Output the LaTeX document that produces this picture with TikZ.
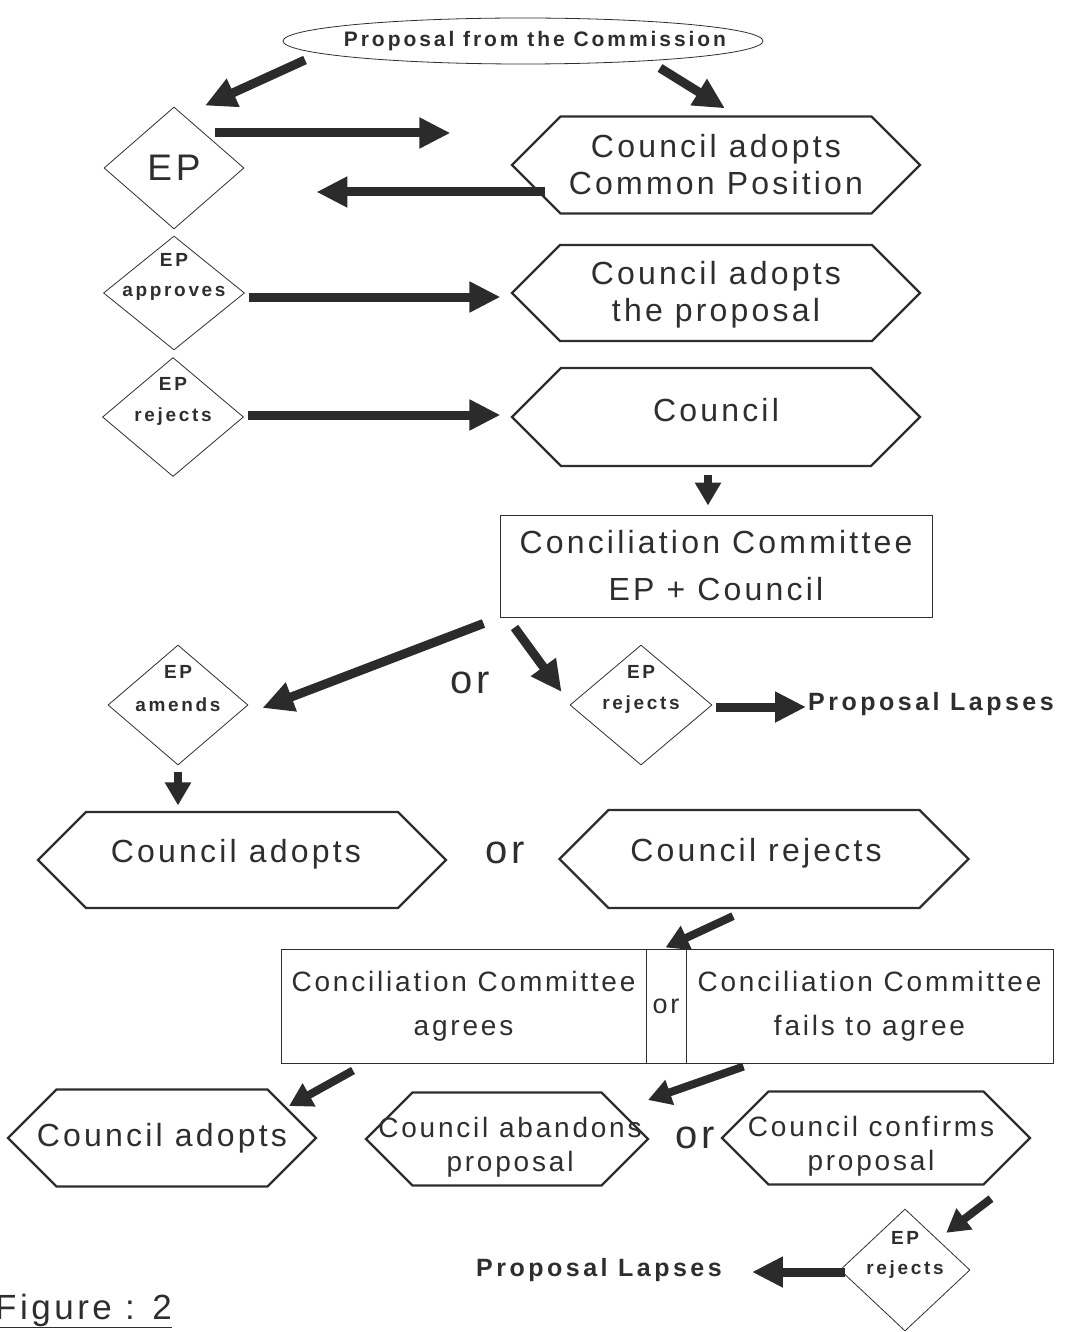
\documentclass[tikz,border=0pt]{standalone}
\usepackage{fontspec}
\setmainfont{Liberation Sans}
\newfontfamily\widefont[LetterSpace=10]{Liberation Sans}
\newfontfamily\tightfont[LetterSpace=14]{Liberation Sans}
\usetikzlibrary{shapes.geometric,shapes.symbols,arrows.meta}
\definecolor{ink}{gray}{0.18}
\definecolor{arrowgray}{gray}{0.17}
\tikzset{
  hexa/.style={signal,signal to=east and west,signal pointer angle=90,draw=ink,line width=2.2pt,inner sep=0pt},
  hextext/.style={text=ink,inner sep=0pt,align=center,font=\widefont\fontsize{32}{37}\selectfont},
  smallhex/.style={hextext,font=\widefont\fontsize{28}{34}\selectfont},
  dia/.style={diamond,draw=ink,line width=0.8pt,inner sep=0pt},
  diatext/.style={text=ink,inner sep=0pt,font=\tightfont\bfseries\fontsize{19}{19}\selectfont},
  box/.style={rectangle,draw=ink,line width=1pt,inner sep=0pt,align=center,text=ink,
    font=\widefont\fontsize{32}{47}\selectfont},
  oval/.style={ellipse,draw=ink,line width=0.8pt,inner sep=0pt},
  ovaltext/.style={text=ink,inner sep=0pt,font=\tightfont\bfseries\fontsize{21}{21}\selectfont},
  lapse/.style={inner sep=0pt,text=ink,font=\tightfont\bfseries\fontsize{25}{25}\selectfont},
  ortext/.style={inner sep=0pt,text=ink,font=\widefont\fontsize{40}{40}\selectfont},
  fat/.style={arrowgray,line width=9pt,-{Triangle[length=31pt,width=29pt]}},
  fatsm/.style={arrowgray,line width=8pt,-{Triangle[length=23pt,width=25pt]}}
}
\begin{document}
\begin{tikzpicture}[x=1pt,y=-1pt]
  \useasboundingbox (0,0) rectangle (1067,1332);

  % -- first round: Commission, EP and Council --
  \node[oval,minimum width=480pt,minimum height=46pt,
        label={[ovaltext,xshift=12pt]center:Proposal from the Commission}] (prop) at (523,41) {};
  \node[dia,minimum width=140pt,minimum height=122pt,text=ink,
        font=\widefont\fontsize{37}{37}\selectfont] (ep) at (174,168) {EP};
  \node[hexa,minimum width=408pt,minimum height=97pt,
        label={[hextext]center:Council adopts\\Common Position}] (hcp) at (716,165) {};

  \draw[fat] ([xshift=-218pt,yshift=-19pt]prop.center) -- ([xshift=31pt,yshift=1pt]ep.north);
  \draw[fat] ([xshift=137pt,yshift=-27pt]prop.center) -- ([xshift=9pt,yshift=7pt]hcp.north);
  \draw[fat] ([xshift=-29pt,yshift=35pt]ep.east) -- ([xshift=-60pt,yshift=32pt]hcp.west);
  \draw[fat] ([xshift=35pt,yshift=-27pt]hcp.west) -- ([xshift=72pt,yshift=-24pt]ep.east);

  % -- second reading --
  \node[dia,minimum width=141pt,minimum height=114pt,
        label={[diatext]center:approves},label={[diatext,yshift=33pt]center:EP}] (dap) at (174,293) {};
  \node[hexa,minimum width=408pt,minimum height=96pt,
        label={[hextext,yshift=-2pt]center:Council adopts\\the proposal}] (hap) at (716,293) {};
  \node[dia,minimum width=141pt,minimum height=119pt,
        label={[diatext]center:rejects},label={[diatext,yshift=33pt]center:EP}] (drj) at (173,417) {};
  \node[hexa,minimum width=408pt,minimum height=98pt,
        label={[hextext,yshift=7pt]center:Council}] (hco) at (716,417) {};

  \draw[fat] ([xshift=4pt,yshift=-4pt]dap.east) -- ([xshift=-10pt,yshift=-4pt]hap.west);
  \draw[fat] ([xshift=4.5pt,yshift=2pt]drj.east) -- ([xshift=-10pt,yshift=2pt]hco.west);

  % -- conciliation --
  \node[box,minimum width=432pt,minimum height=102pt] (cc) at (716,566) {Conciliation Committee\\EP + Council};
  \draw[fatsm] ([xshift=-8pt,yshift=-8pt]hco.south) -- ([xshift=-8pt,yshift=9pt]cc.north);

  \node[dia,minimum width=140pt,minimum height=120pt,
        label={[diatext]center:amends},label={[diatext,yshift=33pt]center:EP}] (dam) at (178,705) {};
  \node[ortext] (or1) at (470,683) {or};
  \node[dia,minimum width=142pt,minimum height=120pt,
        label={[diatext]center:rejects},label={[diatext,yshift=33pt]center:EP}] (drj2) at (641,705) {};
  \node[lapse,anchor=west] (lapse1) at (808,704) {Proposal Lapses};

  \draw[fat] ([xshift=-16pt,yshift=-6pt]cc.south west) -- ([xshift=14pt,yshift=-3pt]dam.east);
  \draw[fat] ([xshift=15pt,yshift=-10pt]cc.south west) -- ([xshift=-8pt,yshift=13pt]drj2.west);
  \draw[fat] ([xshift=4pt,yshift=-2pt]drj2.east) -- ([xshift=-2pt,yshift=-3pt]lapse1.west);

  % -- third reading --
  \node[hexa,minimum width=408pt,minimum height=96pt,
        label={[hextext,yshift=6pt,xshift=-6pt]center:Council adopts}] (had) at (242,860) {};
  \node[ortext] (or2) at (505,853) {or};
  \node[hexa,minimum width=409pt,minimum height=98pt,
        label={[hextext,yshift=6pt,xshift=-8pt]center:Council rejects}] (hrj) at (764,859) {};
  \draw[fatsm] ([yshift=-7pt]dam.south) -- ++(0,33);

  \node[box,minimum width=365pt,minimum height=114pt,font=\widefont\fontsize{28}{44}\selectfont] (agr) at (463.5,1006) {Conciliation Committee\\agrees};
  \node[box,minimum width=40pt,minimum height=114pt,font=\widefont\fontsize{27}{27}\selectfont] (orm) at (666,1006) {or};
  \node[box,minimum width=367pt,minimum height=114pt,font=\widefont\fontsize{28}{44}\selectfont] (fail) at (869.5,1006) {Conciliation Committee\\fails to agree};
  \draw[fatsm] ([xshift=-31pt,yshift=-7pt]hrj.south) -- ([xshift=-20pt,yshift=1pt]fail.north west);

  % -- last step --
  \node[hexa,minimum width=308pt,minimum height=97pt,
        label={[hextext]center:Council adopts}] (had2) at (162,1138) {};
  \node[hexa,minimum width=282pt,minimum height=93pt,
        label={[smallhex,yshift=-8pt,xshift=3pt]center:Council abandons\\proposal}] (hab) at (507,1139) {};
  \node[ortext] (or3) at (695,1138) {or};
  \node[hexa,minimum width=308pt,minimum height=93pt,
        label={[smallhex,yshift=-8pt,xshift=-5pt]center:Council confirms\\proposal}] (hcf) at (876,1138) {};
  \draw[fatsm] ([xshift=-110.5pt,yshift=-7pt]agr.south) -- ([xshift=127pt,yshift=32pt]had2.center);
  \draw[fatsm] ([xshift=58pt,yshift=-3pt]fail.south west) -- ([xshift=141pt,yshift=39pt]hab.center);

  \node[dia,minimum width=130pt,minimum height=122pt,
        label={[diatext]center:rejects},label={[diatext,yshift=32pt]center:EP}] (drj3) at (905,1270) {};
  \node[lapse] (lapse2) at (599,1270) {Proposal Lapses};
  \draw[fatsm] ([xshift=115pt,yshift=-13pt]hcf.south) -- ([xshift=8.5pt,yshift=6.5pt]drj3.north east);
  \draw[fat] ([xshift=5pt,yshift=-2pt]drj3.west) -- ([xshift=30pt,yshift=-2pt]lapse2.east);

  \node[anchor=base west,inner sep=0pt,text=ink,font=\widefont\fontsize{35}{35}\selectfont] (fig) at (-5,1319) {\underline{Figure : 2}};
\end{tikzpicture}
\end{document}
